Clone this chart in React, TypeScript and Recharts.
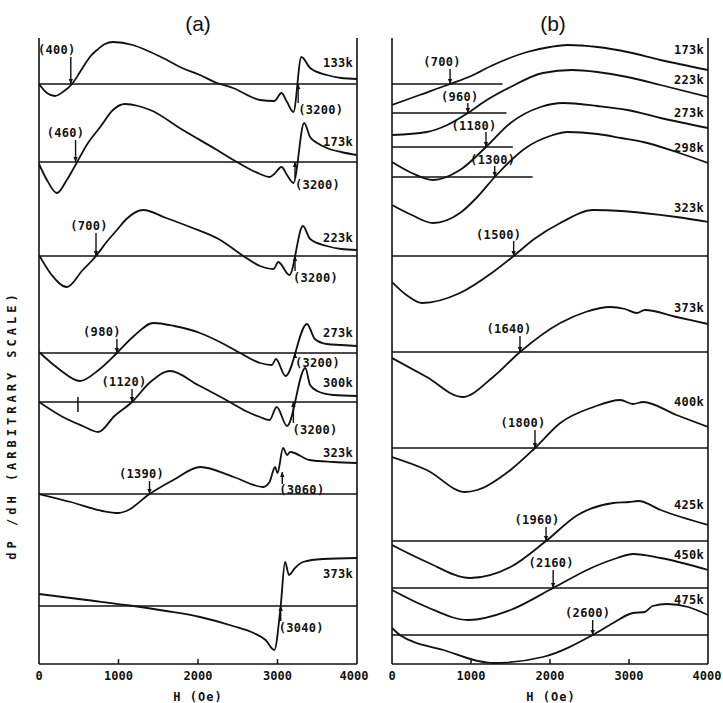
import React from "react";
import { ComposedChart, Line, XAxis, YAxis, ReferenceLine, ReferenceDot } from "recharts";

type Pt = [number, number];

const hTicks = [0, 1000, 2000, 3000, 4000];

// ---- panel (a): dP/dH relative to each trace's own baseline
const tempsA = ["133k", "173k", "223k", "273k", "300k", "323k", "373k"];
const baseA = [580, 502, 408, 311, 262, 170, 58];

const a133: Pt[] = [[0, 0], [100, -9], [200, -12], [300, -8], [415, 0], [500, 10], [555, 17], [650, 28], [730, 34], [830, 40], [930, 42], [1180, 39], [1400, 32], [1610, 24], [1800, 16], [2025, 9], [2240, 1], [2440, -4], [2780, -16], [2960, -17], [3050, -9], [3120, -18], [3200, -28], [3300, 27], [3410, 16], [3620, 9], [3800, 6], [4000, 5]];
const a173: Pt[] = [[0, -2], [100, -18], [225, -31], [350, -18], [480, 0], [600, 17], [770, 35], [930, 52], [1080, 58], [1250, 56], [1400, 52], [1810, 32], [2240, 12], [2490, 0], [2780, -12], [2900, -15], [2960, -12], [3050, -5], [3120, -13], [3200, -21], [3335, 39], [3410, 25], [3500, 19], [3620, 14], [3800, 10], [4000, 7]];
const a223: Pt[] = [[0, 1], [150, -18], [350, -31], [550, -14], [717, 0], [850, 14], [980, 26], [1100, 37], [1310, 46], [1600, 38], [1900, 29], [2280, 16], [2570, 0], [2780, -10], [2950, -13], [3010, -6], [3150, -19], [3320, 30], [3410, 17], [3620, 10], [3800, 7], [4000, 6]];
const a273: Pt[] = [[0, 1], [250, -16], [515, -28], [750, -17], [980, 0], [1180, 16], [1440, 30], [1700, 27], [2025, 20], [2300, 10], [2530, 0], [2780, -10], [2930, -12], [2980, -6], [3100, -23], [3370, 29], [3470, 14], [3620, 9], [3800, 8], [4000, 7]];
const a300: Pt[] = [[0, 0], [300, -15], [550, -24], [745, -30], [950, -14], [1170, 0], [1400, 20], [1650, 31], [2000, 17], [2400, 0], [2600, -9], [2780, -15], [2900, -18], [2990, -5], [3120, -24], [3350, 34], [3410, 17], [3500, 11], [3700, 7], [4000, 6]];
const a323: Pt[] = [[0, 0], [400, -8], [800, -17], [1000, -19], [1100, -17], [1390, 0], [1690, 14], [2030, 27], [2450, 17], [2820, 7], [2900, 12], [2970, 27], [3000, 21], [3070, 46], [3120, 39], [3160, 42], [3400, 34], [3700, 32], [4000, 31]];
const a373: Pt[] = [[0, 12], [600, 6], [1190, 0], [1600, -5], [2025, -11], [2440, -20], [2700, -27], [2850, -34], [2960, -44], [3040, 0], [3095, 44], [3145, 31], [3220, 38], [3320, 44], [3570, 47], [4000, 48]];
const curvesA = [a133, a173, a223, a273, a300, a323, a373];

// ---- panel (b)
const tempsB = ["173k", "223k", "273k", "298k", "323k", "373k", "400k", "425k", "450k", "475k"];
const baseB = [580, 551, 517, 487, 408, 312, 216, 123, 76, 29];
const baseEndB = [1400, 1450, 1530, 1780, 4000, 4000, 4000, 4000, 4000, 4000];

const b173: Pt[] = [[0, -21], [350, -11], [735, 0], [1000, 8], [1280, 19], [1710, 32], [2000, 37], [2220, 39], [2600, 37], [2980, 32], [3400, 24], [4000, 14]];
const b223: Pt[] = [[0, -22], [440, -19], [700, -12], [960, 0], [1200, 13], [1500, 26], [1910, 40], [2280, 43], [2600, 41], [2980, 36], [3400, 28], [4000, 16]];
const b273: Pt[] = [[0, -15], [250, -26], [520, -33], [860, -23], [1190, 0], [1500, 24], [1880, 40], [2170, 44], [2600, 41], [2980, 37], [3400, 29], [4000, 19]];
const b298: Pt[] = [[0, -28], [250, -38], [520, -46], [860, -36], [1080, -20], [1300, 0], [1710, 30], [2000, 41], [2220, 45], [2600, 43], [2900, 39], [3180, 35], [3600, 25], [4000, 14]];
const b323: Pt[] = [[0, -26], [200, -40], [380, -47], [860, -37], [1280, -16], [1540, 0], [1800, 17], [2130, 33], [2550, 46], [2900, 45], [3180, 43], [3600, 39], [4000, 34]];
const b373: Pt[] = [[0, -6], [440, -25], [890, -45], [1280, -25], [1620, 0], [2130, 29], [2450, 40], [2760, 45], [2950, 43], [3100, 39], [3200, 42], [3600, 35], [4000, 28]];
const b400: Pt[] = [[0, -9], [440, -22], [925, -44], [1080, -42], [1500, -22], [1810, 0], [2130, 25], [2550, 41], [2890, 48], [3050, 44], [3180, 46], [3600, 33], [4000, 21]];
const b425: Pt[] = [[0, -4], [440, -21], [990, -37], [1500, -26], [1950, 0], [2350, 26], [2800, 38], [3000, 39], [3120, 40], [3400, 31], [4000, 16]];
const b450: Pt[] = [[0, -2], [440, -19], [960, -32], [1500, -22], [2040, 0], [2550, 21], [2850, 30], [3050, 34], [3400, 30], [4000, 18]];
const b475: Pt[] = [[0, 7], [100, 0], [650, -15], [1280, -28], [1910, -22], [2540, 0], [2800, 12], [3050, 22], [3200, 23], [3300, 29], [3480, 31], [3750, 28], [4000, 20]];
const curvesB = [b173, b223, b273, b298, b323, b373, b400, b425, b450, b475];

// annotated crossing fields: [arrow H, trace index, label]
const marksA: [number, number, string][] = [
  [400, 0, "(400)"], [460, 1, "(460)"], [717, 2, "(700)"], [980, 3, "(980)"], [1170, 4, "(1120)"], [1390, 5, "(1390)"],
  [3260, 0, "(3200)"], [3220, 1, "(3200)"], [3220, 2, "(3200)"], [3220, 3, "(3200)"], [3200, 4, "(3200)"], [3060, 5, "(3060)"], [3040, 6, "(3040)"],
];
const marksB: [number, number, string][] = [
  [735, 0, "(700)"], [960, 1, "(960)"], [1190, 2, "(1180)"], [1300, 3, "(1300)"], [1540, 4, "(1500)"],
  [1620, 5, "(1640)"], [1810, 6, "(1800)"], [1950, 7, "(1960)"], [2040, 8, "(2160)"], [2540, 9, "(2600)"],
];

// label layout: dx (px), text rise, arrow from rise a0 to a1, anchor
type Lay = { dx: number; ty: number; a0: number; a1: number; anchor: "start" | "middle" | "end" };
const layA: Lay[] = [
  { dx: -14, ty: 34, a0: 27, a1: 0, anchor: "middle" },
  { dx: -10, ty: 29, a0: 22, a1: 0, anchor: "middle" },
  { dx: -7, ty: 30, a0: 23, a1: 0, anchor: "middle" },
  { dx: -15, ty: 21, a0: 14, a1: 0, anchor: "middle" },
  { dx: -8, ty: 20, a0: 13, a1: 0, anchor: "middle" },
  { dx: -8, ty: 20, a0: 13, a1: 0, anchor: "middle" },
  { dx: 0, ty: -26, a0: -19, a1: 0, anchor: "start" },
  { dx: 0, ty: -23, a0: -16, a1: 0, anchor: "start" },
  { dx: -2, ty: -22, a0: -15, a1: 0, anchor: "start" },
  { dx: 0, ty: -10, a0: -4, a1: 0, anchor: "start" },
  { dx: -1, ty: -28, a0: -21, a1: 0, anchor: "start" },
  { dx: -3, ty: 4, a0: 10, a1: 22, anchor: "start" },
  { dx: -2, ty: -22, a0: -15, a1: 0, anchor: "start" },
];
const layB: Lay[] = [
  { dx: -8, ty: 22, a0: 15, a1: 0, anchor: "middle" },
  { dx: -8, ty: 16, a0: 10, a1: 0, anchor: "middle" },
  { dx: -12, ty: 21, a0: 15, a1: 0, anchor: "middle" },
  { dx: -2, ty: 17, a0: 11, a1: 0, anchor: "middle" },
  { dx: -15, ty: 21, a0: 15, a1: 0, anchor: "middle" },
  { dx: -11, ty: 23, a0: 16, a1: 0, anchor: "middle" },
  { dx: -12, ty: 25, a0: 18, a1: 0, anchor: "middle" },
  { dx: -9, ty: 21, a0: 14, a1: 0, anchor: "middle" },
  { dx: -2, ty: 25, a0: 18, a1: 0, anchor: "middle" },
  { dx: -5, ty: 22, a0: 15, a1: 0, anchor: "middle" },
];
const tempRiseA = [21, 20, 18, 20, 19, 41, 32];
const tempRiseB = [34, 33, 34, 29, 48, 44, 46, 36, 33, 35];

const INK = "#111";
const FONT = "'DejaVu Sans Mono', monospace";

const txt = {
  fontFamily: FONT,
  fontSize: 12,
  fontWeight: 700,
  fill: INK,
  letterSpacing: 0.3,
} as const;

function HTick(p: any) {
  const { x, y, payload } = p;
  const v = payload.value;
  return (
    <g>
      {v > 0 && v < 4000 && <line x1={x} y1={y} x2={x} y2={y - 5} stroke={INK} strokeWidth={1.5} />}
      <text x={x} y={y + 16} textAnchor="middle" {...txt} letterSpacing={0}>
        {v}
      </text>
    </g>
  );
}

function markShape(text: string, l: Lay) {
  return (p: any) => {
    const { cx, cy } = p;
    const y0 = cy - l.a0;
    const y1 = cy - l.a1;
    const dir = y1 > y0 ? 1 : -1;
    return (
      <g>
        {l.a0 !== l.a1 && <line x1={cx} y1={y0} x2={cx} y2={y1} stroke={INK} strokeWidth={1.4} />}
        {l.a0 !== l.a1 && (
          <path d={`M${cx - 2.2},${y1 - dir * 5} L${cx},${y1} L${cx + 2.2},${y1 - dir * 5} Z`} fill={INK} />
        )}
        <text x={cx + l.dx} y={cy - l.ty} dy="0.35em" textAnchor={l.anchor} {...txt}>
          {text}
        </text>
      </g>
    );
  };
}

function tempShape(text: string) {
  return (p: any) => (
    <text x={p.cx} y={p.cy} dy="0.35em" textAnchor="end" {...txt}>
      {text}
    </text>
  );
}

type PanelProps = {
  left: number;
  width: number;
  mLeft: number;
  mRight: number;
  temps: string[];
  bases: number[];
  ends?: number[];
  curves: Pt[][];
  marks: [number, number, string][];
  lays: Lay[];
  rises: number[];
  extra?: React.ReactNode;
};

function Panel({ left, width, mLeft, mRight, temps, bases, ends, curves, marks, lays, rises, extra }: PanelProps) {
  return (
    <div style={{ position: "absolute", left, top: 0 }}>
      <ComposedChart width={width} height={703} margin={{ top: 38, right: mRight, bottom: 0, left: mLeft }}>
        <XAxis
          dataKey="h"
          type="number"
          domain={[0, 4000]}
          ticks={hTicks}
          allowDataOverflow
          height={39}
          tickSize={0}
          tickMargin={0}
          tickLine={false}
          axisLine={{ stroke: INK, strokeWidth: 1.6 }}
          tick={<HTick />}
        />
        <YAxis type="number" domain={[0, 626]} hide allowDataOverflow />
        <ReferenceLine x={0} stroke={INK} strokeWidth={1.6} />
        <ReferenceLine x={4000} stroke={INK} strokeWidth={1.6} />
        {bases.map((b, i) =>
          ends && ends[i] < 4000 ? (
            <ReferenceLine
              key={"bl" + i}
              segment={[{ x: 0, y: b }, { x: ends[i], y: b }]}
              stroke={INK}
              strokeWidth={1.6}
            />
          ) : (
            <ReferenceLine key={"bl" + i} y={b} stroke={INK} strokeWidth={1.6} />
          )
        )}
        {curves.map((c, i) => (
          <Line
            key={temps[i]}
            data={c.map(([h, v]) => ({ h, v: bases[i] + v }))}
            dataKey="v"
            type="monotone"
            stroke={INK}
            strokeWidth={1.8}
            dot={false}
            activeDot={false}
            isAnimationActive={false}
          />
        ))}
        {extra}
        {marks.map(([h, i, t], k) => (
          <ReferenceDot key={"m" + k} x={h} y={bases[i]} r={0} shape={markShape(t, lays[k])} />
        ))}
        {temps.map((t, i) => (
          <ReferenceDot key={"t" + t} x={3950} y={bases[i] + rises[i]} r={0} shape={tempShape(t)} />
        ))}
      </ComposedChart>
    </div>
  );
}

export default function App() {
  const label = { fontFamily: FONT, fontSize: 12, fontWeight: 700, fill: INK } as const;
  return (
    <div style={{ position: "absolute", left: 0, top: 0, width: 723, height: 703, background: "#fff" }}>
      <Panel
        left={0}
        width={370}
        mLeft={39}
        mRight={13}
        temps={tempsA}
        bases={baseA}
        curves={curvesA}
        marks={marksA}
        lays={layA}
        rises={tempRiseA}
        extra={
          <ReferenceLine
            segment={[{ x: 490, y: baseA[4] + 5 }, { x: 490, y: baseA[4] - 10 }]}
            stroke={INK}
            strokeWidth={1.5}
          />
        }
      />
      <Panel
        left={360}
        width={363}
        mLeft={32}
        mRight={15}
        temps={tempsB}
        bases={baseB}
        ends={baseEndB}
        curves={curvesB}
        marks={marksB}
        lays={layB}
        rises={tempRiseB}
      />
      <svg width={723} height={703} style={{ position: "absolute", left: 0, top: 0, pointerEvents: "none" }}>
        <text x={198} y={31} textAnchor="middle" fontFamily="'Liberation Sans', Arial, sans-serif" fontSize={21} fill={INK}>
          (a)
        </text>
        <text x={553} y={31} textAnchor="middle" fontFamily="'Liberation Sans', Arial, sans-serif" fontSize={21} fill={INK}>
          (b)
        </text>
        <text x={198} y={701} textAnchor="middle" {...label} letterSpacing={1}>
          H (Oe)
        </text>
        <text x={551} y={701} textAnchor="middle" {...label} letterSpacing={1}>
          H (Oe)
        </text>
        <text
          x={0}
          y={0}
          transform="translate(16 425) rotate(-90)"
          textAnchor="middle"
          {...label}
          letterSpacing={4}
        >
          dP /dH (ARBITRARY SCALE)
        </text>
      </svg>
    </div>
  );
}
